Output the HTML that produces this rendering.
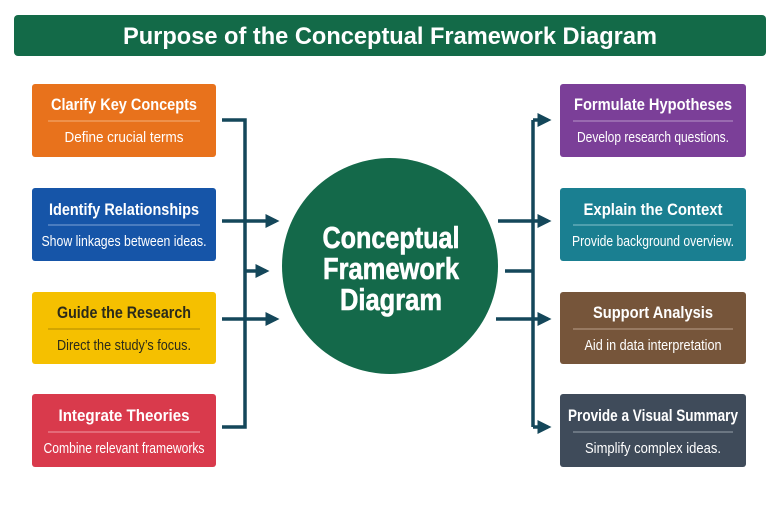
<!DOCTYPE html>
<html><head><meta charset="utf-8"><style>html,body{margin:0;padding:0;background:#fff}</style></head><body>
<svg width="780" height="520" viewBox="0 0 780 520" xmlns="http://www.w3.org/2000/svg" font-family="'Liberation Sans Narrow','Liberation Sans',sans-serif">
<rect width="780" height="520" fill="#fff"/>
<rect x="14" y="15" width="752" height="41" rx="4" fill="#136a48"/>
<text x="390" y="44" text-anchor="middle" font-weight="bold" font-size="24" fill="#fff" textLength="534" lengthAdjust="spacingAndGlyphs" font-family="'Liberation Sans',sans-serif">Purpose of the Conceptual Framework Diagram</text>
<defs><marker id="a" markerWidth="4" markerHeight="4" refX="3" refY="2" orient="auto" markerUnits="strokeWidth"><path d="M0,0 L4,2 L0,4 z" fill="#14475a"/></marker></defs>
<g stroke="#14475a" stroke-width="3.5" fill="none">
<path d="M222,120 H245 V427 H222"/>
<path d="M222,221 H276" marker-end="url(#a)"/>
<path d="M245,271 H266" marker-end="url(#a)"/>
<path d="M222,319 H276" marker-end="url(#a)"/>
<path d="M533,120 V427"/>
<path d="M533,120 H548" marker-end="url(#a)"/>
<path d="M533,427 H548" marker-end="url(#a)"/>
<path d="M498,221 H548" marker-end="url(#a)"/>
<path d="M505,271 H533"/>
<path d="M496,319 H548" marker-end="url(#a)"/>
</g>
<circle cx="390" cy="266" r="108" fill="#14694a"/>
<g fill="#fff" stroke="#fff" stroke-width="0.6" font-weight="bold" font-size="31" text-anchor="middle" font-family="'Liberation Sans',sans-serif">
<text x="391" y="248" textLength="137" lengthAdjust="spacingAndGlyphs">Conceptual</text>
<text x="391" y="279" textLength="136" lengthAdjust="spacingAndGlyphs">Framework</text>
<text x="391" y="310" textLength="102" lengthAdjust="spacingAndGlyphs">Diagram</text>
</g>
<g font-family="'Liberation Sans',sans-serif">
<rect x="32" y="84" width="184" height="73" rx="3" fill="#e8721c"/>
<line x1="48" y1="121" x2="200" y2="121" stroke="#f4b07a" stroke-width="1"/>
<text x="124" y="110" text-anchor="middle" font-weight="bold" font-size="17" fill="#fff" textLength="146" lengthAdjust="spacingAndGlyphs">Clarify Key Concepts</text>
<text x="124" y="142" text-anchor="middle" font-size="15" fill="#fff" textLength="119" lengthAdjust="spacingAndGlyphs">Define crucial terms</text>

<rect x="32" y="188" width="184" height="73" rx="3" fill="#1655a8"/>
<line x1="48" y1="225" x2="200" y2="225" stroke="#7fa3d6" stroke-width="1"/>
<text x="124" y="215" text-anchor="middle" font-weight="bold" font-size="17" fill="#fff" textLength="150" lengthAdjust="spacingAndGlyphs">Identify Relationships</text>
<text x="124" y="246" text-anchor="middle" font-size="15" fill="#fff" textLength="165" lengthAdjust="spacingAndGlyphs">Show linkages between ideas.</text>

<rect x="32" y="292" width="184" height="72" rx="3" fill="#f5c000"/>
<line x1="48" y1="329" x2="200" y2="329" stroke="#b08a00" stroke-width="1"/>
<text x="124" y="318" text-anchor="middle" font-weight="bold" font-size="17" fill="#2a2a1a" textLength="134" lengthAdjust="spacingAndGlyphs">Guide the Research</text>
<text x="124" y="350" text-anchor="middle" font-size="15" fill="#2a2a1a" textLength="134" lengthAdjust="spacingAndGlyphs">Direct the study’s focus.</text>

<rect x="32" y="394" width="184" height="73" rx="3" fill="#d93a4c"/>
<line x1="48" y1="432" x2="200" y2="432" stroke="#ee9aa4" stroke-width="1"/>
<text x="124" y="421" text-anchor="middle" font-weight="bold" font-size="17" fill="#fff" textLength="131" lengthAdjust="spacingAndGlyphs">Integrate Theories</text>
<text x="124" y="453" text-anchor="middle" font-size="15" fill="#fff" textLength="161" lengthAdjust="spacingAndGlyphs">Combine relevant frameworks</text>

<rect x="560" y="84" width="186" height="73" rx="3" fill="#7b3f98"/>
<line x1="573" y1="121" x2="733" y2="121" stroke="#b796c8" stroke-width="1"/>
<text x="653" y="110" text-anchor="middle" font-weight="bold" font-size="17" fill="#fff" textLength="158" lengthAdjust="spacingAndGlyphs">Formulate Hypotheses</text>
<text x="653" y="142" text-anchor="middle" font-size="15" fill="#fff" textLength="152" lengthAdjust="spacingAndGlyphs">Develop research questions.</text>

<rect x="560" y="188" width="186" height="73" rx="3" fill="#1a7f91"/>
<line x1="573" y1="225" x2="733" y2="225" stroke="#86c0cb" stroke-width="1"/>
<text x="653" y="215" text-anchor="middle" font-weight="bold" font-size="17" fill="#fff" textLength="139" lengthAdjust="spacingAndGlyphs">Explain the Context</text>
<text x="653" y="246" text-anchor="middle" font-size="15" fill="#fff" textLength="162" lengthAdjust="spacingAndGlyphs">Provide background overview.</text>

<rect x="560" y="292" width="186" height="72" rx="3" fill="#76553a"/>
<line x1="573" y1="329" x2="733" y2="329" stroke="#b9a08a" stroke-width="1"/>
<text x="653" y="318" text-anchor="middle" font-weight="bold" font-size="17" fill="#fff" textLength="120" lengthAdjust="spacingAndGlyphs">Support Analysis</text>
<text x="653" y="350" text-anchor="middle" font-size="15" fill="#fff" textLength="137" lengthAdjust="spacingAndGlyphs">Aid in data interpretation</text>

<rect x="560" y="394" width="186" height="73" rx="3" fill="#3f4b5a"/>
<line x1="573" y1="432" x2="733" y2="432" stroke="#97a0ab" stroke-width="1"/>
<text x="653" y="421" text-anchor="middle" font-weight="bold" font-size="17" fill="#fff" textLength="170" lengthAdjust="spacingAndGlyphs">Provide a Visual Summary</text>
<text x="653" y="453" text-anchor="middle" font-size="15" fill="#fff" textLength="136" lengthAdjust="spacingAndGlyphs">Simplify complex ideas.</text>
</g>
</svg>
</body></html>
